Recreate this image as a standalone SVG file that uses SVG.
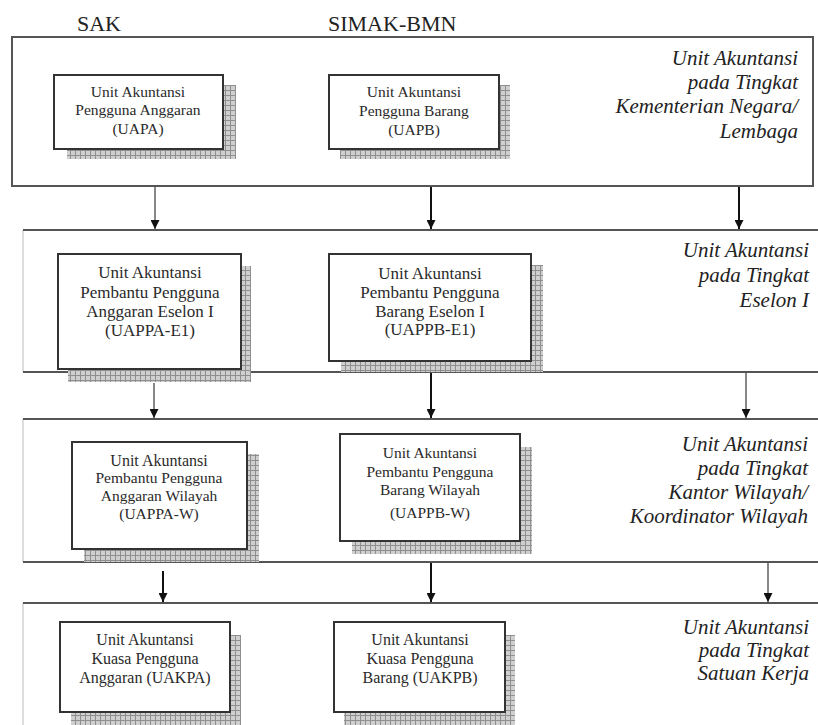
<svg xmlns="http://www.w3.org/2000/svg" width="818" height="725" viewBox="0 0 818 725">
<defs>
<pattern id="hatch" width="5" height="5" patternUnits="userSpaceOnUse">
<rect width="5" height="5" fill="#cfcfcf"/>
<path d="M0.5 0 V5 M0 0.5 H5" stroke="#8f8f8f" stroke-width="1"/>
</pattern>
<marker id="ah" viewBox="0 0 10 10" refX="10" refY="5" markerWidth="9" markerHeight="9" markerUnits="userSpaceOnUse" orient="auto">
<path d="M0 0 L10 5 L0 10 Z" fill="#111"/>
</marker>
</defs>
<style>
text{font-family:'Liberation Serif','DejaVu Serif',serif}
.hdr{font-size:22px;fill:#222}
.lvl{font-style:italic;font-size:21px;fill:#222;text-anchor:end}
.bt{fill:#2a2a2a;text-anchor:middle}
.box{fill:#fff;stroke:#333;stroke-width:2}
.sh{fill:url(#hatch)}
.band{fill:none;stroke:#555;stroke-width:2}
.bedge{stroke:#bbb;stroke-width:1}
.ln{stroke:#111;stroke-width:1;fill:none}
.lnb{stroke:#111;stroke-width:2;fill:none}
</style>
<rect width="818" height="725" fill="#fff"/>

<text class="hdr" x="77" y="31">SAK</text>
<text class="hdr" x="328" y="31">SIMAK-BMN</text>

<g id="band1">
<rect class="band" x="12" y="37" width="801" height="149"/>
<text class="lvl" x="798" y="65">Unit Akuntansi</text>
<text class="lvl" x="798" y="89">pada Tingkat</text>
<text class="lvl" x="798" y="113">Kementerian Negara/</text>
<text class="lvl" x="798" y="138">Lembaga</text>
</g>
<g id="band2">
<line class="bedge" x1="23" y1="230" x2="23" y2="372"/>
<line class="band" x1="23" y1="230" x2="818" y2="230"/>
<line class="band" x1="23" y1="372" x2="818" y2="372"/>
<text class="lvl" x="809" y="257">Unit Akuntansi</text>
<text class="lvl" x="809" y="282">pada Tingkat</text>
<text class="lvl" x="809" y="307">Eselon I</text>
</g>
<g id="band3">
<line class="bedge" x1="23" y1="419" x2="23" y2="562"/>
<line class="band" x1="23" y1="419" x2="818" y2="419"/>
<line class="band" x1="23" y1="562" x2="818" y2="562"/>
<text class="lvl" x="808" y="451" font-size="20.5">Unit Akuntansi</text>
<text class="lvl" x="808" y="475" font-size="20.5">pada Tingkat</text>
<text class="lvl" x="808" y="499" font-size="20.5">Kantor Wilayah/</text>
<text class="lvl" x="808" y="523" font-size="20.5">Koordinator Wilayah</text>
</g>
<g id="band4">
<line class="bedge" x1="23" y1="603" x2="23" y2="725"/>
<line class="band" x1="23" y1="603" x2="818" y2="603"/>
<text class="lvl" x="809" y="634">Unit Akuntansi</text>
<text class="lvl" x="809" y="657">pada Tingkat</text>
<text class="lvl" x="809" y="680">Satuan Kerja</text>
</g>

<g id="uapa">
<rect class="sh" x="67" y="85" width="169" height="74"/>
<rect class="box" x="54" y="75" width="169" height="74"/>
<text class="bt" x="138" y="97" font-size="15.5">Unit Akuntansi</text>
<text class="bt" x="138" y="115" font-size="15.5">Pengguna Anggaran</text>
<text class="bt" x="138" y="134" font-size="15.5">(UAPA)</text>
</g>
<g id="uapb">
<rect class="sh" x="340" y="85" width="170" height="74"/>
<rect class="box" x="329" y="75" width="170" height="74"/>
<text class="bt" x="414" y="97" font-size="15.5">Unit Akuntansi</text>
<text class="bt" x="414" y="116" font-size="15.5">Pengguna Barang</text>
<text class="bt" x="414" y="135" font-size="15.5">(UAPB)</text>
</g>
<g id="uappa-e1">
<rect class="sh" x="68" y="266" width="183" height="116"/>
<rect class="box" x="58" y="254" width="183" height="115"/>
<text class="bt" x="150" y="278" font-size="17">Unit Akuntansi</text>
<text class="bt" x="150" y="298" font-size="17">Pembantu Pengguna</text>
<text class="bt" x="150" y="317" font-size="17">Anggaran Eselon I</text>
<text class="bt" x="150" y="336" font-size="17">(UAPPA-E1)</text>
</g>
<g id="uappb-e1">
<rect class="sh" x="341" y="265" width="202" height="107"/>
<rect class="box" x="329" y="254" width="202" height="107"/>
<text class="bt" x="430" y="279" font-size="17">Unit Akuntansi</text>
<text class="bt" x="430" y="298" font-size="17">Pembantu Pengguna</text>
<text class="bt" x="430" y="317" font-size="17">Barang Eselon I</text>
<text class="bt" x="430" y="335" font-size="17">(UAPPB-E1)</text>
</g>
<g id="uappa-w">
<rect class="sh" x="84" y="454" width="175" height="108"/>
<rect class="box" x="72" y="442" width="175" height="107"/>
<text class="bt" x="159" y="466" font-size="16">Unit Akuntansi</text>
<text class="bt" x="159" y="483" font-size="15.5">Pembantu Pengguna</text>
<text class="bt" x="159" y="501" font-size="15.5">Anggaran Wilayah</text>
<text class="bt" x="159" y="519" font-size="15.5">(UAPPA-W)</text>
</g>
<g id="uappb-w">
<rect class="sh" x="352" y="447" width="180" height="107"/>
<rect class="box" x="340" y="434" width="180" height="107"/>
<text class="bt" x="430" y="458" font-size="15.5">Unit Akuntansi</text>
<text class="bt" x="430" y="477" font-size="15.5">Pembantu Pengguna</text>
<text class="bt" x="430" y="495" font-size="15.5">Barang Wilayah</text>
<text class="bt" x="430" y="518" font-size="15.5">(UAPPB-W)</text>
</g>
<g id="uakpa">
<rect class="sh" x="71" y="635" width="170" height="90"/>
<rect class="box" x="60" y="622" width="170" height="90"/>
<text class="bt" x="145" y="645" font-size="16">Unit Akuntansi</text>
<text class="bt" x="145" y="664" font-size="16">Kuasa Pengguna</text>
<text class="bt" x="145" y="683" font-size="16">Anggaran (UAKPA)</text>
</g>
<g id="uakpb">
<rect class="sh" x="344" y="635" width="171" height="90"/>
<rect class="box" x="334" y="622" width="171" height="90"/>
<text class="bt" x="420" y="645" font-size="16">Unit Akuntansi</text>
<text class="bt" x="420" y="664" font-size="16">Kuasa Pengguna</text>
<text class="bt" x="420" y="683" font-size="16">Barang (UAKPB)</text>
</g>

<g id="connectors">
<line class="ln" x1="155" y1="187" x2="155" y2="229" marker-end="url(#ah)"/>
<line class="lnb" x1="431" y1="187" x2="431" y2="229" marker-end="url(#ah)"/>
<line class="lnb" x1="739" y1="187" x2="739" y2="229" marker-end="url(#ah)"/>
<line class="ln" x1="154" y1="383" x2="154" y2="418" marker-end="url(#ah)"/>
<line class="lnb" x1="431" y1="373" x2="431" y2="418" marker-end="url(#ah)"/>
<line class="ln" x1="746" y1="373" x2="746" y2="418" marker-end="url(#ah)"/>
<line class="lnb" x1="163" y1="571" x2="163" y2="602" marker-end="url(#ah)"/>
<line class="lnb" x1="431" y1="563" x2="431" y2="602" marker-end="url(#ah)"/>
<line class="ln" x1="768" y1="563" x2="768" y2="602" marker-end="url(#ah)"/>
</g>
</svg>
